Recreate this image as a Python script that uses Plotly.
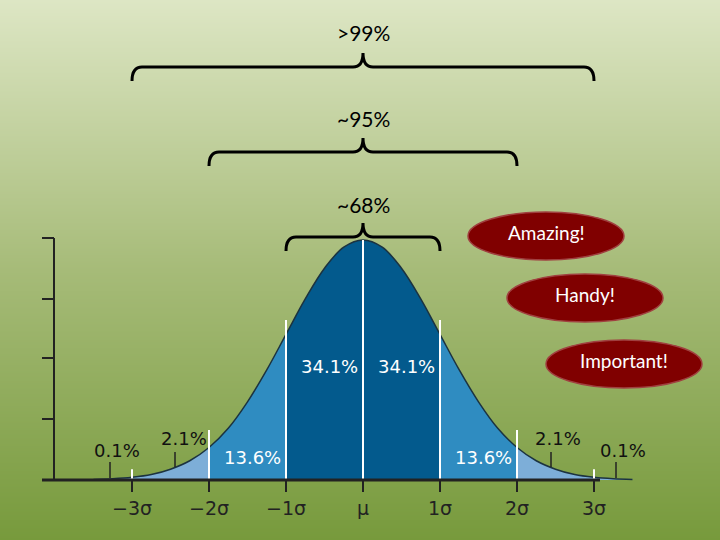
import plotly.graph_objects as go

# ---- data ----
sigma_x = [-3.5, -3.25, -3.0, -2.75, -2.5, -2.25, -2.0, -1.75, -1.5, -1.25, -1.0, -0.75, -0.5, -0.25,
           0.0, 0.25, 0.5, 0.75, 1.0, 1.25, 1.5, 1.75, 2.0, 2.25, 2.5, 2.75, 3.0, 3.25, 3.5]
density = [0.0009, 0.002, 0.0044, 0.009, 0.018, 0.032, 0.054, 0.086, 0.130, 0.183, 0.242, 0.301, 0.352, 0.387,
           0.399, 0.387, 0.352, 0.301, 0.242, 0.183, 0.130, 0.086, 0.054, 0.032, 0.018, 0.009, 0.0044, 0.002, 0.0009]
tick_vals = [-3, -2, -1, 0, 1, 2, 3]
tick_text = ["−3σ", "−2σ", "−1σ", "μ", "1σ", "2σ", "3σ"]
band_labels = ["34.1%", "34.1%", "13.6%", "13.6%", "2.1%", "2.1%", "0.1%", "0.1%"]
band_x = [-0.43, 0.57, -1.44, 1.57, -2.33, 2.53, -3.19, 3.38]
bracket_labels = [">99%", "~95%", "~68%"]
bracket_half = [3, 2, 1]
callouts = ["Amazing!", "Handy!", "Important!"]

# pixel <-> data helpers (mu at 363px, sigma = 77px, baseline 480px)
MU, S, BASE, K = 363, 77.0, 480, 601.6
def dx(p): return (p - MU) / S
def dy(p): return (BASE - p) / K

fig = go.Figure()

# background gradient
fig.add_trace(go.Heatmap(x=[dx(0), dx(720)], y=[dy(540), dy(0)], z=[[0, 0], [1, 1]],
                         colorscale=[[0, "#779a3c"], [0.5, "#a6bb78"], [1, "#dde6c4"]],
                         zsmooth="best", showscale=False, hoverinfo="skip"))

def seg(lo, hi):
    xs = [x for x in sigma_x if lo <= x <= hi]
    ys = [density[sigma_x.index(x)] for x in xs]
    return xs, ys

fills = [(-3.5, -2, "#7daed8"), (-2, -1, "#2f8cc1"), (-1, 1, "#035a8d"),
         (1, 2, "#2f8cc1"), (2, 3.5, "#7daed8")]
for lo, hi, c in fills:
    xs, ys = seg(lo, hi)
    fig.add_trace(go.Scatter(x=xs, y=ys, mode="lines", line=dict(width=0, shape="spline"),
                             fill="tozeroy", fillcolor=c, hoverinfo="skip", showlegend=False))
fig.add_trace(go.Scatter(x=sigma_x, y=density, mode="lines",
                         line=dict(color="#1c3340", width=1.5, shape="spline"),
                         hoverinfo="skip", showlegend=False))

shapes = []
# white separators
tops = {0: 0.399, 1: 0.266, 2: 0.083, 3: 0.018}
for v in tick_vals:
    shapes.append(dict(type="line", x0=v, x1=v, y0=0, y1=tops[abs(v)], line=dict(color="white", width=2)))
    shapes.append(dict(type="line", x0=v, x1=v, y0=0, y1=dy(492), line=dict(color="#222", width=2)))
# axes
shapes.append(dict(type="line", x0=dx(42), x1=dx(600), y0=0, y1=0, line=dict(color="#222", width=3)))
shapes.append(dict(type="line", x0=dx(54), x1=dx(54), y0=0, y1=dy(238), line=dict(color="#222", width=2)))
for p in [238, 299, 358, 419]:
    shapes.append(dict(type="line", x0=dx(42), x1=dx(54), y0=dy(p), y1=dy(p), line=dict(color="#222", width=2)))
# pointer ticks for small labels
for px_, a, b in [(110, 462, 478), (175, 452, 467), (551, 452, 467), (616, 462, 478)]:
    shapes.append(dict(type="line", x0=dx(px_), x1=dx(px_), y0=dy(a), y1=dy(b), line=dict(color="#222", width=1.5)))

# curly brackets
for lab, h, ly, ty in zip(bracket_labels, bracket_half, [67, 152, 237], [32, 118, 204]):
    x0, x1 = dx(MU - h * S), dx(MU + h * S)
    r = 10 / S
    yl, yb, yt = dy(ly), dy(ly + 14), dy(ly - 14)
    c = 0.0
    path = (f"M {x0},{yb} Q {x0},{yl} {x0 + r},{yl} L {c - r},{yl} Q {c},{yl} {c},{yt} "
            f"Q {c},{yl} {c + r},{yl} L {x1 - r},{yl} Q {x1},{yl} {x1},{yb}")
    shapes.append(dict(type="path", path=path, line=dict(color="black", width=3)))
    fig.add_annotation(x=0, y=dy(ty), text=lab, showarrow=False,
                       font=dict(family="Lato", size=21, color="black"))

# callout ellipses
for lab, (cx, cy) in zip(callouts, [(546, 236), (585, 298), (624, 364)]):
    shapes.append(dict(type="circle", x0=dx(cx - 78), x1=dx(cx + 78), y0=dy(cy + 24), y1=dy(cy - 24),
                       fillcolor="#800000", line=dict(color="#a04040", width=1.5)))
    fig.add_annotation(x=dx(cx), y=dy(cy - 4), text=lab, showarrow=False,
                       font=dict(family="Lato", size=19, color="white"))

# band percentages
for i, (lab, bx) in enumerate(zip(band_labels, band_x)):
    ypix = [366, 366, 457, 457, 438, 438, 450, 450][i]
    col = "white" if i < 4 else "#111"
    fig.add_annotation(x=bx, y=dy(ypix), text=lab, showarrow=False,
                       font=dict(family="DejaVu Sans", size=18, color=col))

for v, t in zip(tick_vals, tick_text):
    fig.add_annotation(x=v, y=dy(508), text=t, showarrow=False,
                       font=dict(family="DejaVu Sans", size=19, color="#222"))

fig.update_layout(width=720, height=540, margin=dict(l=0, r=0, t=0, b=0),
                  shapes=shapes, showlegend=False,
                  paper_bgcolor="#a6bb78", plot_bgcolor="#a6bb78")
fig.update_xaxes(range=[dx(0), dx(720)], visible=False)
fig.update_yaxes(range=[dy(540), dy(0)], visible=False)

fig.write_html("out.html", config={"displayModeBar": False},
               post_script="document.body.style.margin='0';")
